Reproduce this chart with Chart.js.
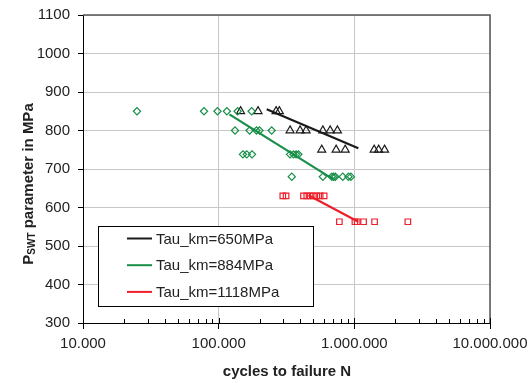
<!DOCTYPE html>
<html>
<head>
<meta charset="utf-8">
<script src="https://cdn.jsdelivr.net/npm/chart.js@4.4.1/dist/chart.umd.min.js"></script>
<style>
  body { margin: 0; background: #fff; }
  canvas { display: block; }
</style>
</head>
<body>
<canvas id="swtChart" width="530" height="383"></canvas>
<script>
// Data (cycles to failure N, P_SWT in MPa)
const seriesNames = ['Tau_km=650MPa', 'Tau_km=884MPa', 'Tau_km=1118MPa'];
const seriesColors = ['#1a1a1a', '#178f48', '#ec1f2b'];

const cycles650 = [145000, 195000, 265000, 280000,
                   336000, 398000, 441000, 586000, 663000, 750000,
                   575000, 734000, 856000, 1400000, 1510000, 1670000];
const pswt650 = [850, 850, 850, 850,
                 800, 800, 800, 800, 800, 800,
                 750, 750, 750, 750, 750, 750];

const cycles884 = [25000, 78000, 98000, 115000, 138000, 175000,
                   132000, 169000, 190000, 200000, 246000,
                   151000, 161000, 176000, 336000, 356000, 372000, 387000,
                   346000, 586000, 682000, 705000, 725000, 822000, 905000, 943000];
const pswt884 = [850, 850, 850, 850, 850, 850,
                 800, 800, 800, 800, 800,
                 738, 738, 738, 738, 738, 738, 738,
                 680, 680, 680, 680, 680, 680, 680, 680];

const cycles1118 = [297000, 314000, 422000, 446000, 472000, 499000, 528000, 560000, 599000,
                    776000, 1010000, 1050000, 1170000, 1410000, 2480000];
const pswt1118 = [630, 630, 630, 630, 630, 630, 630, 630, 630,
                  563, 563, 563, 563, 563, 563];

// trend line end points
const trend650N = [226000, 1070000];
const trend650P = [855, 754];
const trend884N = [120000, 701000];
const trend884P = [842, 673];
const trend1118N = [459000, 1070000];
const trend1118P = [632, 563];

const xTicks = [10000, 100000, 1000000, 10000000];

function toPoints(xs, ys) {
    return xs.map((x, i) => ({ x: x, y: ys[i] }));
}

function dotted(v) {
    return String(v).replace(/\B(?=(\d{3})+(?!\d))/g, '.');
}

const FONT = '"Liberation Sans", Arial, sans-serif';

// frame, minor ticks, axis titles and legend box
const decorPlugin = {
    id: 'decor',
    afterDraw(chart) {
        const ctx = chart.ctx;
        const a = chart.chartArea;
        const xs = chart.scales.x;
        ctx.save();

        // top and right frame
        ctx.strokeStyle = '#555';
        ctx.lineWidth = 1.5;
        ctx.beginPath();
        ctx.moveTo(a.left, a.top);
        ctx.lineTo(a.right, a.top);
        ctx.lineTo(a.right, a.bottom);
        ctx.stroke();

        // minor ticks on x axis
        ctx.strokeStyle = '#000';
        ctx.lineWidth = 1;
        ctx.beginPath();
        for (let d = 10000; d < 10000000; d *= 10) {
            for (let k = 2; k <= 9; k++) {
                const px = Math.round(xs.getPixelForValue(d * k)) + 0.5;
                ctx.moveTo(px, a.bottom);
                ctx.lineTo(px, a.bottom - 4);
            }
        }
        xTicks.forEach(v => {
            const px = Math.round(xs.getPixelForValue(v)) + 0.5;
            ctx.moveTo(px, a.bottom);
            ctx.lineTo(px, a.bottom - 5);
        });
        ctx.stroke();

        // x title
        ctx.fillStyle = '#222';
        ctx.font = 'bold 15px ' + FONT;
        ctx.textAlign = 'center';
        ctx.textBaseline = 'middle';
        ctx.fillText('cycles to failure N', 287, 372);

        // y title with subscript
        ctx.translate(29, 184);
        ctx.rotate(-Math.PI / 2);
        const big = 'bold 15px ' + FONT;
        const small = 'bold 10px ' + FONT;
        const parts = [['P', big, 0], ['SWT', small, 3], [' parameter in MPa', big, 0]];
        let total = 0;
        parts.forEach(p => { ctx.font = p[1]; total += ctx.measureText(p[0]).width; });
        let cx = -total / 2;
        ctx.textAlign = 'left';
        parts.forEach(p => {
            ctx.font = p[1];
            ctx.fillText(p[0], cx, p[2]);
            cx += ctx.measureText(p[0]).width;
        });
        ctx.setTransform(1, 0, 0, 1, 0, 0);

        // legend
        const bx = 98.5, by = 226.5, bw = 215, bh = 80;
        ctx.fillStyle = '#fff';
        ctx.fillRect(bx, by, bw, bh);
        ctx.strokeStyle = '#000';
        ctx.lineWidth = 1;
        ctx.strokeRect(bx, by, bw, bh);
        ctx.font = '15px ' + FONT;
        ctx.textBaseline = 'middle';
        seriesNames.forEach((name, i) => {
            const ly = 238.5 + i * 26.7;
            ctx.strokeStyle = seriesColors[i];
            ctx.lineWidth = 2;
            ctx.beginPath();
            ctx.moveTo(127, ly);
            ctx.lineTo(152, ly);
            ctx.stroke();
            ctx.fillStyle = '#222';
            ctx.fillText(name, 156, ly + 1);
        });
        ctx.restore();
    }
};

function pointSet(xs, ys, color, style, radius) {
    return {
        type: 'scatter',
        data: toPoints(xs, ys),
        showLine: false,
        pointStyle: style,
        pointRadius: radius,
        pointHoverRadius: radius,
        pointBorderColor: color,
        pointBackgroundColor: 'rgba(255,255,255,0)',
        pointBorderWidth: 1.2
    };
}

function trendSet(xs, ys, color) {
    return {
        type: 'line',
        data: toPoints(xs, ys),
        borderColor: color,
        borderWidth: 2.2,
        pointRadius: 0,
        fill: false
    };
}

const chart = new Chart(document.getElementById('swtChart'), {
    type: 'scatter',
    data: {
        datasets: [
            pointSet(cycles884, pswt884, seriesColors[1], 'rectRot', 3.6),
            pointSet(cycles650, pswt650, seriesColors[0], 'triangle', 4.6),
            pointSet(cycles1118, pswt1118, seriesColors[2], 'rect', 3.9),
            trendSet(trend650N, trend650P, seriesColors[0]),
            trendSet(trend884N, trend884P, seriesColors[1]),
            trendSet(trend1118N, trend1118P, seriesColors[2])
        ]
    },
    options: {
        responsive: false,
        animation: false,
        layout: { padding: { top: 15, right: 40, left: 0, bottom: 0 } },
        plugins: {
            legend: { display: false },
            tooltip: { enabled: false }
        },
        scales: {
            x: {
                type: 'logarithmic',
                min: 10000,
                max: 10000000,
                afterBuildTicks: s => { s.ticks = xTicks.map(v => ({ value: v })); },
                afterFit: s => {
                    s.height = 60;
                    s.paddingLeft = 0;
                    s.paddingRight = 0;
                },
                ticks: {
                    callback: v => dotted(v),
                    color: '#222',
                    font: { size: 15, family: FONT },
                    padding: 6,
                    maxRotation: 0
                },
                grid: { color: '#c8c8c8', tickColor: '#000', tickLength: 6 },
                border: { color: '#000', width: 1 }
            },
            y: {
                min: 300,
                max: 1100,
                afterFit: s => {
                    s.width = 83;
                    s.paddingTop = 0;
                    s.paddingBottom = 0;
                },
                ticks: {
                    stepSize: 100,
                    callback: v => String(v),
                    color: '#222',
                    font: { size: 15, family: FONT },
                    padding: 8
                },
                grid: { color: '#c8c8c8', tickColor: '#000', tickLength: 5 },
                border: { color: '#000', width: 1 }
            }
        }
    },
    plugins: [decorPlugin]
});
</script>
</body>
</html>
